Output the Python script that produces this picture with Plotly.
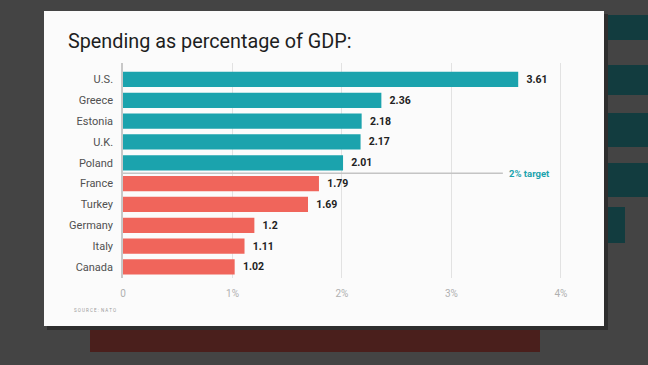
import plotly.graph_objects as go

countries = ["U.S.", "Greece", "Estonia", "U.K.", "Poland", "France", "Turkey", "Germany", "Italy", "Canada"]
spending = [3.61, 2.36, 2.18, 2.17, 2.01, 1.79, 1.69, 1.2, 1.11, 1.02]
target = 2
tick_vals = [0, 1, 2, 3, 4]
tick_text = ["0", "1%", "2%", "3%", "4%"]

W, H = 648, 365
L, R, T, B = 123, 86, 63, 87
PW, PH = W - L - R, H - T - B


def px(x):
    return (x - L) / PW


def py(y):
    return (H - B - y) / PH


TEAL = "#1ba3ad"
CORAL = "#f0655b"
colors = [TEAL if v >= target else CORAL for v in spending]

fig = go.Figure()
fig.add_trace(go.Bar(
    x=spending, y=countries, orientation="h",
    marker=dict(color=colors, line=dict(width=0)),
    text=["  " + str(v) for v in spending],
    texttemplate="<b>%{text}</b>",
    textposition="outside", cliponaxis=False,
    textfont=dict(family="Roboto", size=10.5, color="#222"),
    hoverinfo="skip",
))

shapes = []
# blurred background elements
for y0, y1, x1 in [(15, 40, 648), (65, 95, 648), (113, 147, 648), (163, 197, 648), (207, 243, 625)]:
    shapes.append(dict(type="rect", xref="paper", yref="paper", x0=px(600), x1=px(x1), y0=py(y1), y1=py(y0),
                       fillcolor="#123c3f", line=dict(width=0), layer="below"))
shapes.append(dict(type="rect", xref="paper", yref="paper", x0=px(90), x1=px(540), y0=py(352), y1=py(327),
                   fillcolor="#4a1f1c", line=dict(width=0), layer="below"))
# card shadow and card
shapes.append(dict(type="rect", xref="paper", yref="paper", x0=px(47), x1=px(608), y0=py(330), y1=py(14),
                   fillcolor="#2e2e2e", line=dict(width=0), layer="below"))
shapes.append(dict(type="rect", xref="paper", yref="paper", x0=px(44), x1=px(604), y0=py(326), y1=py(11),
                   fillcolor="#fbfbfb", line=dict(width=0), layer="below"))
# 2% target line
shapes.append(dict(type="line", xref="x", yref="y", x0=0, x1=3.47, y0=4.5, y1=4.5,
                   line=dict(color="#c4c4c4", width=1.5), layer="above"))

fig.update_layout(
    width=W, height=H,
    margin=dict(l=L, r=R, t=T, b=B),
    paper_bgcolor="#444444",
    plot_bgcolor="rgba(0,0,0,0)",
    showlegend=False,
    bargap=0.27,
    shapes=shapes,
    xaxis=dict(range=[0, 4.01], tickvals=tick_vals, ticktext=tick_text,
               showgrid=True, gridcolor="#e2e2e2", gridwidth=1.2, zeroline=False,
               showline=False, ticks="", ticklabelstandoff=8,
               tickfont=dict(family="Roboto", size=10, color="#b0b0b0")),
    yaxis=dict(categoryorder="array", categoryarray=countries[::-1], range=[-0.53, 9.79],
               showgrid=False, zeroline=False, showline=True, linecolor="#c8c8c8", linewidth=1.5,
               ticks="", ticklabelstandoff=6,
               tickfont=dict(family="Roboto", size=11, color="#505050")),
    annotations=[
        dict(text="Spending as percentage of GDP:", xref="paper", yref="paper", x=px(66), y=py(41),
             xanchor="left", yanchor="middle", showarrow=False,
             font=dict(family="Roboto", size=19.8, color="#1e1e1e")),
        dict(text="<b>2% target</b>", xref="x", yref="y", x=3.47, y=4.5, xanchor="left", yanchor="middle",
             xshift=4, showarrow=False, font=dict(family="Roboto", size=9.5, color=TEAL)),
        dict(text="S O U R C E :  N A T O", xref="paper", yref="paper", x=px(72), y=py(310),
             xanchor="left", yanchor="middle", showarrow=False,
             font=dict(family="Roboto", size=4.5, color="#9a9a9a")),
    ],
)

fig.write_html(
    "out.html",
    config={"displayModeBar": False},
    post_script="document.body.style.margin='0';document.body.style.overflow='hidden';",
)
